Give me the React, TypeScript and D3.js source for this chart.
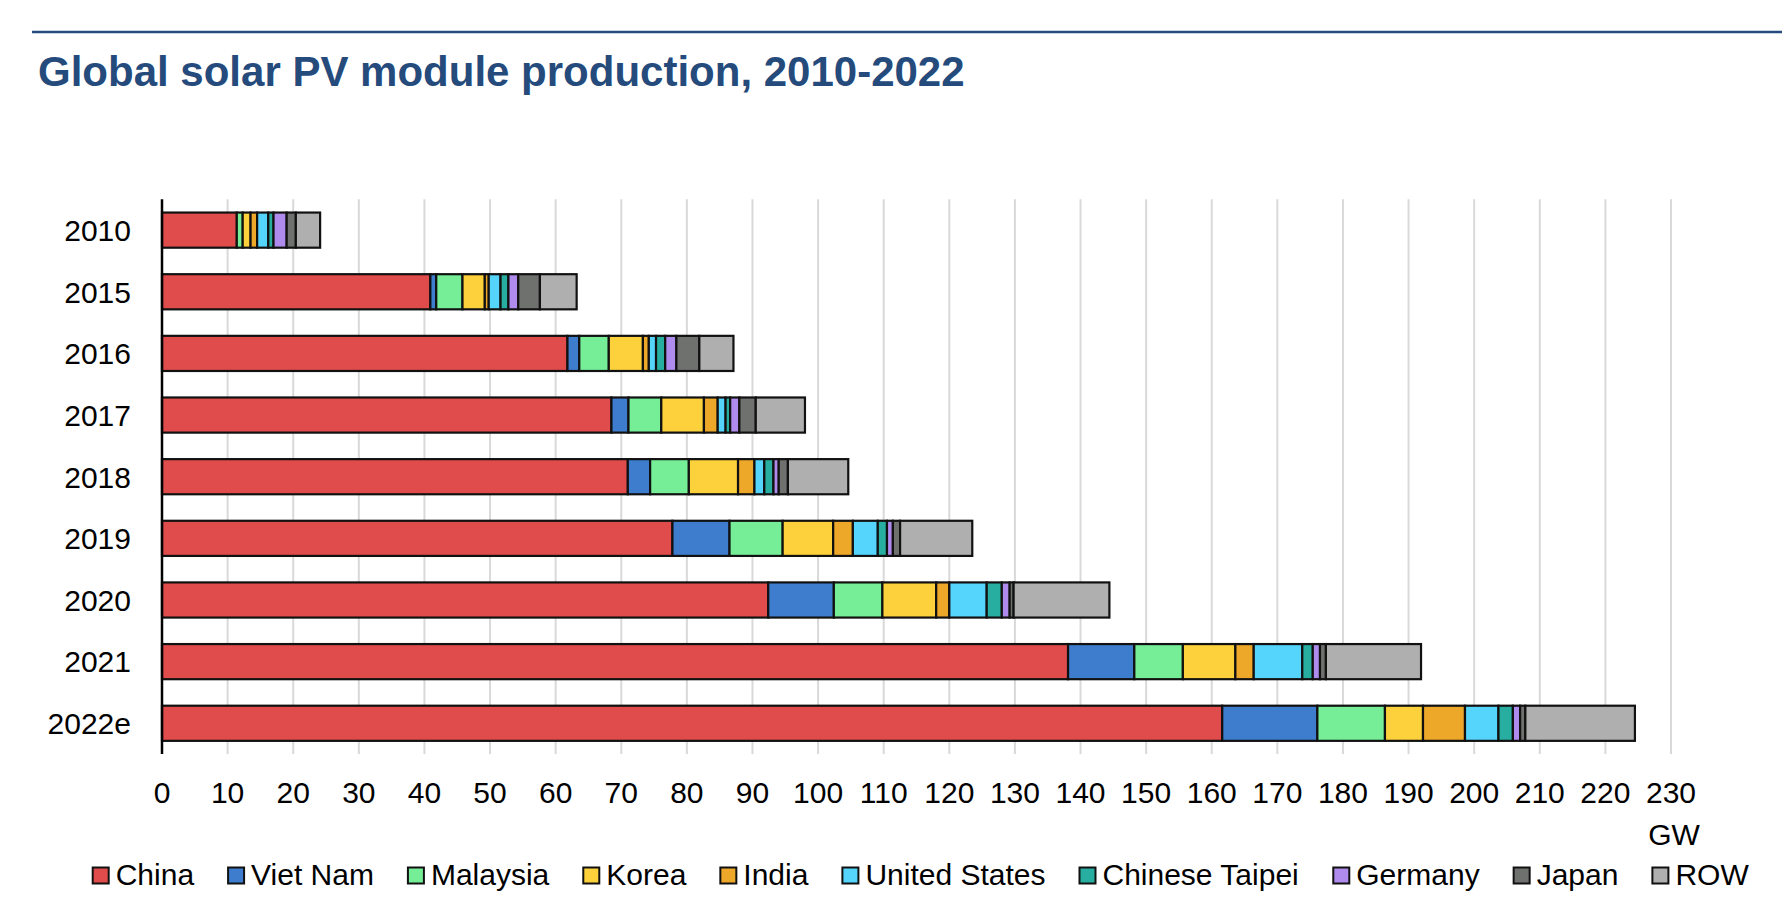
import React, { useMemo } from "react";
import * as d3 from "d3";

const years = ["2010", "2015", "2016", "2017", "2018", "2019", "2020", "2021", "2022e"];
const seriesNames = ["China", "Viet Nam", "Malaysia", "Korea", "India", "United States", "Chinese Taipei", "Germany", "Japan", "ROW"];
const seriesColors = ["#E04B4B", "#3E7DCD", "#75EE97", "#FCD13C", "#EDA729", "#55D4FC", "#27AEA0", "#AE8BEC", "#6F716F", "#AFAFAF"];

const china = [11.4, 40.9, 61.8, 68.5, 71.0, 77.8, 92.4, 138.1, 161.6];
const vietNam = [0.0, 0.9, 1.8, 2.6, 3.4, 8.7, 10.0, 10.1, 14.5];
const malaysia = [0.9, 4.0, 4.5, 5.0, 5.9, 8.1, 7.4, 7.4, 10.3];
const korea = [1.2, 3.4, 5.2, 6.5, 7.5, 7.7, 8.2, 8.0, 5.8];
const india = [1.0, 0.6, 0.9, 2.1, 2.5, 3.0, 2.0, 2.8, 6.4];
const unitedStates = [1.7, 1.8, 1.1, 1.2, 1.5, 3.8, 5.7, 7.4, 5.1];
const chineseTaipei = [0.8, 1.2, 1.4, 0.7, 1.4, 1.4, 2.3, 1.6, 2.2];
const germany = [2.0, 1.5, 1.7, 1.4, 0.8, 0.9, 1.2, 1.1, 1.1];
const japan = [1.4, 3.3, 3.5, 2.5, 1.4, 1.1, 0.6, 0.9, 0.8];
const row = [3.7, 5.6, 5.2, 7.5, 9.2, 11.0, 14.6, 14.5, 16.7];

const xTicks = d3.range(0, 231, 10);

const W = 1782;
const H = 922;
const FONT = "'Liberation Sans', Arial, Helvetica, sans-serif";
const BLUE = "#254B7C";

export default function App() {
  const seriesValues = [china, vietNam, malaysia, korea, india, unitedStates, chineseTaipei, germany, japan, row];

  const x = d3.scaleLinear().domain([0, 230]).range([162, 1671]);
  const y = d3
    .scaleBand<string>()
    .domain(years)
    .range([199.3, 754.1])
    .paddingInner(0.43)
    .paddingOuter(0.215);

  const table = years.map((yr, i) => {
    const o: Record<string, number | string> = { year: yr };
    seriesNames.forEach((s, k) => (o[s] = seriesValues[k][i]));
    return o;
  });
  const stacked = d3.stack<any>().keys(seriesNames)(table as any);

  const legendItems = useMemo(() => {
    const canvas = document.createElement("canvas");
    const ctx = canvas.getContext("2d")!;
    ctx.font = `30px ${FONT}`;
    let cx = 92.7;
    return seriesNames.map((name, i) => {
      const w = ctx.measureText(name).width;
      const item = { name, color: seriesColors[i], x: cx, w };
      cx += 23 + w + 34;
      return item;
    });
  }, []);

  const yTop = y.range()[0];
  const yBottom = y.range()[1];

  return (
    <svg
      width={W}
      height={H}
      style={{ position: "absolute", left: 0, top: 0, background: "#fff" }}
      fontFamily={FONT}
    >
      <rect x={0} y={0} width={W} height={H} fill="#fff" />
      <line x1={32} x2={W} y1={32} y2={32} stroke={BLUE} strokeWidth={2.5} />
      <text x={38} y={86} fontSize={42} fontWeight="bold" fill={BLUE}>
        Global solar PV module production, 2010-2022
      </text>

      {/* gridlines */}
      {xTicks.filter((t) => t > 0).map((t) => (
        <line key={t} x1={x(t)} x2={x(t)} y1={yTop} y2={yBottom} stroke="#D9D9D9" strokeWidth={2} />
      ))}

      {/* bars */}
      {stacked.map((layer, k) => (
        <g key={seriesNames[k]}>
          {layer.map((d, i) => {
            const w = x(d[1]) - x(d[0]);
            if (w <= 0) return null;
            return (
              <rect
                key={years[i]}
                x={x(d[0])}
                y={y(years[i])!}
                width={w}
                height={y.bandwidth()}
                fill={seriesColors[k]}
                stroke="#111"
                strokeWidth={2.2}
              />
            );
          })}
        </g>
      ))}

      {/* y axis line */}
      <line x1={x(0)} x2={x(0)} y1={yTop} y2={yBottom} stroke="#000" strokeWidth={2.5} />

      {/* y labels */}
      {years.map((yr) => (
        <text
          key={yr}
          x={131}
          y={y(yr)! + y.bandwidth() / 2}
          dy="0.36em"
          textAnchor="end"
          fontSize={30}
          fill="#000"
        >
          {yr}
        </text>
      ))}

      {/* x labels */}
      {xTicks.map((t) => (
        <text key={t} x={x(t)} y={803} textAnchor="middle" fontSize={30} fill="#000">
          {t}
        </text>
      ))}
      <text x={x(230) + 3} y={845} textAnchor="middle" fontSize={30} fill="#000">
        GW
      </text>

      {/* legend */}
      {legendItems.map((it) => (
        <g key={it.name}>
          <rect x={it.x} y={867.5} width={16} height={16} fill={it.color} stroke="#111" strokeWidth={2} />
          <text x={it.x + 23} y={885} fontSize={30} fill="#000">
            {it.name}
          </text>
        </g>
      ))}
    </svg>
  );
}
